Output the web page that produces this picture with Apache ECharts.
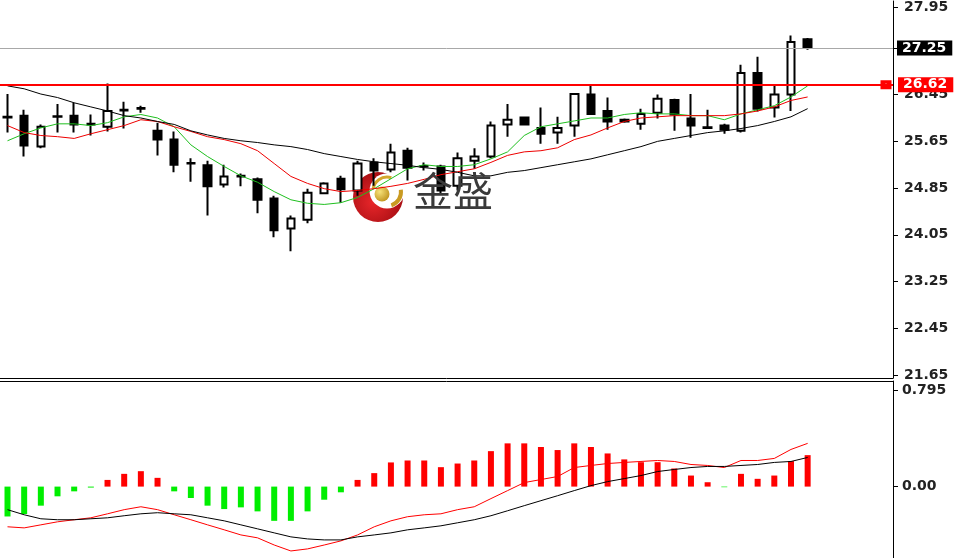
<!DOCTYPE html>
<html><head><meta charset="utf-8">
<script src="https://cdn.jsdelivr.net/npm/echarts@6/dist/echarts.min.js"></script>
<style>html,body{margin:0;padding:0;background:#fff}#c{width:954px;height:558px}</style>
</head><body><div id="c"></div>
<script>
// ---- price candles ----
const openP  = [26.07,26.09,25.56,26.08,26.09,25.95,25.90,26.18,26.22,25.83,25.68,25.28,25.24,24.91,25.06,25.00,24.67,24.16,24.31,24.76,25.01,24.81,25.29,25.17,25.49,25.23,25.22,24.89,25.32,25.39,25.94,26.06,25.88,25.80,25.92,26.45,26.17,26.02,25.95,26.14,26.36,26.04,25.89,25.92,25.83,26.82,26.23,26.45,27.40];
const closeP = [26.06,25.58,25.90,26.07,25.94,25.94,26.17,26.19,26.21,25.68,25.25,25.27,24.88,25.05,25.05,24.65,24.13,24.33,24.77,24.93,24.83,25.27,25.15,25.46,25.20,25.22,24.81,25.36,25.39,25.92,26.02,25.94,25.78,25.88,26.46,26.12,25.99,25.99,26.12,26.38,26.11,25.92,25.88,25.85,26.82,26.21,26.45,27.35,27.25];
const lowP   = [25.80,25.39,25.53,25.80,25.80,25.75,25.82,25.87,26.14,25.41,25.12,24.96,24.38,24.86,24.88,24.42,24.01,23.77,24.25,24.76,24.60,24.72,24.89,25.12,24.98,25.15,24.76,24.81,25.18,25.36,25.73,25.92,25.61,25.61,25.73,26.11,25.85,25.97,25.85,26.04,25.83,25.71,25.87,25.78,25.80,26.16,26.06,26.17,27.22];
const highP  = [26.46,26.19,25.94,26.29,26.31,26.11,26.64,26.33,26.26,25.97,25.82,25.36,25.32,25.25,25.10,25.03,24.72,24.38,24.84,24.95,25.06,25.32,25.36,25.61,25.54,25.29,25.25,25.46,25.53,25.99,26.29,26.07,26.23,26.07,26.47,26.62,26.40,26.04,26.21,26.45,26.38,26.46,26.19,25.95,26.96,27.10,26.60,27.46,27.42];
// ---- moving averages ----
const maFast = [25.66,25.78,25.88,25.95,25.95,25.92,25.97,26.07,26.11,26.05,25.90,25.59,25.39,25.22,25.06,24.95,24.79,24.65,24.59,24.57,24.60,24.69,24.84,25.01,25.18,25.25,25.22,25.22,25.25,25.35,25.47,25.75,25.90,25.95,26.00,26.05,26.05,26.11,26.14,26.12,26.12,26.09,26.09,26.02,26.12,26.19,26.26,26.41,26.60];
const maMid  = [25.92,25.80,25.75,25.73,25.70,25.78,25.85,25.92,26.02,25.99,25.90,25.82,25.73,25.68,25.61,25.49,25.27,25.05,24.93,24.84,24.79,24.81,24.84,24.88,24.93,25.00,25.08,25.13,25.18,25.29,25.41,25.47,25.49,25.54,25.68,25.76,25.88,25.99,26.05,26.07,26.09,26.09,26.09,26.09,26.12,26.17,26.24,26.35,26.41];
const maSlow = [26.60,26.55,26.46,26.40,26.31,26.24,26.17,26.09,26.05,25.99,25.94,25.83,25.76,25.70,25.66,25.63,25.59,25.56,25.51,25.44,25.39,25.34,25.30,25.27,25.24,25.20,25.17,25.12,25.06,25.06,25.12,25.15,25.20,25.25,25.30,25.35,25.42,25.49,25.56,25.65,25.70,25.75,25.80,25.83,25.87,25.92,25.99,26.07,26.21];
// ---- MACD ----
const macdHist = [-0.246,-0.226,-0.157,-0.080,-0.039,-0.008,0.055,0.105,0.127,0.072,-0.039,-0.094,-0.157,-0.185,-0.171,-0.204,-0.282,-0.282,-0.204,-0.108,-0.047,0.055,0.111,0.199,0.215,0.215,0.160,0.190,0.215,0.292,0.356,0.356,0.326,0.301,0.356,0.326,0.273,0.224,0.201,0.201,0.149,0.091,0.036,-0.005,0.105,0.064,0.091,0.210,0.259];
const macdDif  = [-0.331,-0.340,-0.315,-0.290,-0.273,-0.257,-0.224,-0.190,-0.166,-0.190,-0.232,-0.273,-0.315,-0.356,-0.398,-0.422,-0.481,-0.530,-0.513,-0.481,-0.447,-0.398,-0.331,-0.282,-0.248,-0.232,-0.224,-0.190,-0.166,-0.099,-0.033,0.033,0.058,0.083,0.157,0.174,0.190,0.199,0.207,0.215,0.207,0.182,0.174,0.157,0.215,0.215,0.232,0.306,0.356];
const macdDea  = [-0.190,-0.232,-0.265,-0.273,-0.273,-0.265,-0.257,-0.240,-0.224,-0.215,-0.224,-0.232,-0.257,-0.282,-0.315,-0.348,-0.381,-0.414,-0.431,-0.439,-0.439,-0.414,-0.398,-0.381,-0.356,-0.340,-0.323,-0.298,-0.273,-0.240,-0.199,-0.157,-0.116,-0.075,-0.033,0.008,0.041,0.066,0.091,0.124,0.141,0.157,0.166,0.166,0.174,0.182,0.199,0.207,0.240];
// ---- axis ticks / levels ----
const priceTicks  = [21.65,22.45,23.25,24.05,24.85,25.65,26.45,27.25,27.95];
const priceLabels = [21.65,22.45,23.25,24.05,24.85,25.65,26.45,27.95];
const currentPrice = 27.25;
const resistanceLevel = 26.62;
const macdTicks = [0, 0.795];
const macdTickLabels = ['0.00', '0.795'];

const candles = openP.map((o, i) => [i, o, closeP[i], lowP[i], highP[i]]);
const line = arr => arr.map((v, i) => [i, v]);
const hist = macdHist.map((v, i) => ({
  value: [i, v],
  itemStyle: { color: v >= 0 ? '#ff0000' : '#00ee00' }
}));

const labelFont = { fontFamily: 'DejaVu Sans', fontSize: 14, fontWeight: 'bold', color: '#222' };
const boxLabel = (bg) => ({ show: true, position: 'end', formatter: p => p.value.toFixed(2),
  backgroundColor: bg, color: '#fff', fontFamily: 'DejaVu Sans', fontSize: 14, fontWeight: 'bold',
  padding: [1, 6, 0, 5] });
const X_MIN = -0.45, X_MAX = 53.12;
const flagSymbol = 'path://M0,0H12V9H0Z M5,3.5V5.5H7V3.5Z';

const chart = echarts.init(document.getElementById('c'), null, { renderer: 'canvas' });
chart.setOption({
  animation: false,
  backgroundColor: '#ffffff',
  grid: [
    { left: 0, right: 61, top: 0, height: 378 },
    { left: 0, right: 61, top: 381, height: 177 }
  ],
  xAxis: [
    { type: 'value', gridIndex: 0, min: X_MIN, max: X_MAX, position: 'bottom',
      axisLine: { show: true, onZero: false, lineStyle: { color: '#000', width: 1 } },
      axisTick: { show: false }, axisLabel: { show: false }, splitLine: { show: false } },
    { type: 'value', gridIndex: 1, min: X_MIN, max: X_MAX, position: 'top',
      axisLine: { show: true, onZero: false, lineStyle: { color: '#000', width: 1 } },
      axisTick: { show: false }, axisLabel: { show: false }, splitLine: { show: false } }
  ],
  yAxis: [
    { type: 'value', gridIndex: 0, position: 'right', min: 21.599, max: 28.053, scale: true,
      axisLine: { show: true, onZero: false, lineStyle: { color: '#000', width: 1 } },
      axisTick: { show: true, inside: false, length: 5, customValues: priceTicks, lineStyle: { color: '#000' } },
      axisLabel: Object.assign({ show: true, margin: 11, customValues: priceLabels,
        formatter: v => Number(v).toFixed(2) }, labelFont),
      splitLine: { show: false } },
    { type: 'value', gridIndex: 1, position: 'right', min: -0.588, max: 0.8696,
      axisLine: { show: true, onZero: false, lineStyle: { color: '#000', width: 1 } },
      axisTick: { show: true, inside: false, length: 5, customValues: macdTicks, lineStyle: { color: '#000' } },
      axisLabel: Object.assign({ show: true, margin: 9, customValues: macdTicks,
        formatter: v => macdTickLabels[macdTicks.indexOf(Number(v))] ?? '' }, labelFont),
      splitLine: { show: false } }
  ],
  series: [
    { type: 'candlestick', xAxisIndex: 0, yAxisIndex: 0, z: 2,
      data: candles, encode: { x: 0, y: [1, 2, 3, 4] },
      barWidth: 8,
      itemStyle: { color: '#ffffff', color0: '#000000', borderColor: '#000000', borderColor0: '#000000', borderWidth: 2 },
      markLine: {
        silent: true, animation: false, z: 10,
        symbol: ['none', flagSymbol], symbolSize: [11, 9], symbolRotate: 0, symbolOffset: [[0, 0], [-7, 0]],
        lineStyle: { color: '#ff0000', width: 2, type: 'solid' },
        label: Object.assign(boxLabel('#ff0000'), { distance: 5 }),
        data: [ { yAxis: resistanceLevel } ]
      } },
    { type: 'line', xAxisIndex: 0, yAxisIndex: 0, z: 3, data: line(maFast), symbol: 'none',
      lineStyle: { color: '#1fbf1f', width: 1 } },
    { type: 'line', xAxisIndex: 0, yAxisIndex: 0, z: 3, data: line(maMid), symbol: 'none',
      lineStyle: { color: '#ee0000', width: 1 } },
    { type: 'line', xAxisIndex: 0, yAxisIndex: 0, z: 3, data: line(maSlow), symbol: 'none',
      lineStyle: { color: '#000000', width: 1 },
      markLine: {
        silent: true, animation: false, symbol: ['none', 'none'],
        lineStyle: { color: '#a8a8a8', width: 1, type: 'solid' },
        label: Object.assign(boxLabel('#000000'), { distance: 4 }),
        data: [ { yAxis: currentPrice } ]
      } },
    { type: 'bar', xAxisIndex: 1, yAxisIndex: 1, data: hist, barWidth: 6 },
    { type: 'line', xAxisIndex: 1, yAxisIndex: 1, z: 3, data: line(macdDif), symbol: 'none',
      lineStyle: { color: '#ff0000', width: 1 } },
    { type: 'line', xAxisIndex: 1, yAxisIndex: 1, z: 3, data: line(macdDea), symbol: 'none',
      lineStyle: { color: '#000000', width: 1 } }
  ],
  graphic: [
    { type: 'group', x: 353, y: 172, z: 100, silent: true, children: [
      { type: 'circle', shape: { cx: 25, cy: 25, r: 25 },
        style: { fill: { type: 'radial', x: 0.4, y: 0.6, r: 0.7,
          colorStops: [{ offset: 0, color: '#e8262a' }, { offset: 1, color: '#9e0b10' }] } } },
      { type: 'circle', shape: { cx: 34, cy: 19, r: 17.5 }, style: { fill: '#ffffff' } },
      { type: 'arc', shape: { cx: 34, cy: 19, r: 14, startAngle: Math.PI * 1.05, endAngle: Math.PI * 1.6 },
        style: { stroke: '#d4a72c', lineWidth: 3, fill: null } },
      { type: 'arc', shape: { cx: 34, cy: 20, r: 14, startAngle: -Math.PI * 0.05, endAngle: Math.PI * 0.4 },
        style: { stroke: '#c99a22', lineWidth: 4, fill: null } },
      { type: 'circle', shape: { cx: 29, cy: 22, r: 7.5 },
        style: { fill: { type: 'radial', x: 0.35, y: 0.35, r: 0.8,
          colorStops: [{ offset: 0, color: '#f6e27a' }, { offset: 1, color: '#b98a12' }] } } }
    ] },
    { type: 'text', x: 413, y: 171, z: 100, silent: true,
      style: { text: '金盛', font: '40px "Noto Sans CJK SC"', fill: '#3a3a3a', verticalAlign: 'top', textVerticalAlign: 'top' } }
  ]
});
</script></body></html>
